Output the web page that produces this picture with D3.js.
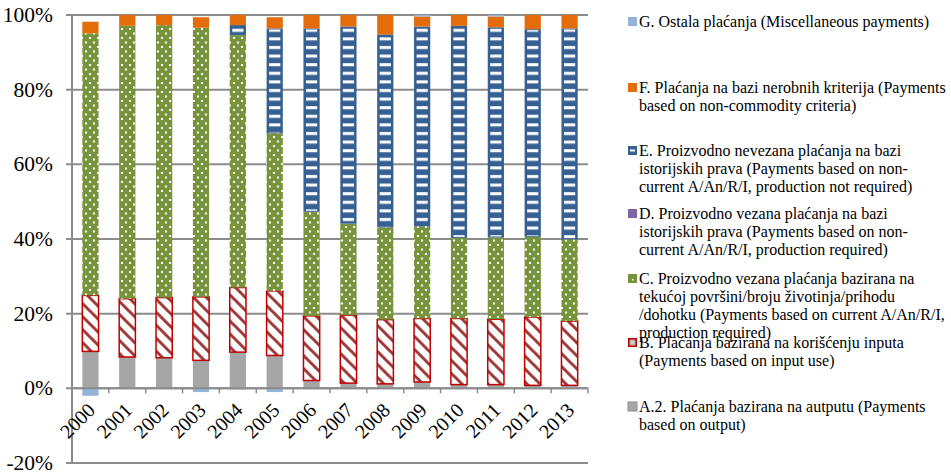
<!DOCTYPE html>
<html>
<head>
<meta charset="utf-8">
<script src="https://cdn.jsdelivr.net/npm/d3@7"></script>
<style>
  body { margin: 0; background: #fff; }
  svg { display: block; }
  text { font-family: "Liberation Serif", "Tinos", "Noto Serif", "DejaVu Serif", serif; }
</style>
</head>
<body>
<div id="chart"></div>
<script>
"use strict";

// years on the x axis
const years = ["2000","2001","2002","2003","2004","2005","2006","2007","2008","2009","2010","2011","2012","2013"];

// shares in %
const serA = [9.9, 8.4, 8.2, 7.5, 9.7, 8.8, 2.1, 1.4, 1.2, 1.7, 1.0, 1.0, 0.8, 0.8];
const serB = [15.0, 15.6, 16.1, 17.0, 17.3, 17.3, 17.3, 18.2, 17.2, 17.0, 17.7, 17.5, 18.3, 17.2];
const serC = [70.2, 73.1, 73.0, 72.1, 67.6, 42.2, 27.9, 24.5, 24.7, 24.7, 21.6, 21.9, 21.5, 21.9];
const serD = [0, 0, 0, 0, 0, 0, 0, 0, 0, 0, 0, 0, 0, 0];
const serE = [0, 0, 0, 0, 2.7, 28.1, 49.1, 52.8, 51.7, 53.5, 56.8, 56.3, 55.6, 56.5];
const serF = [3.1, 2.9, 2.7, 2.8, 2.7, 3.0, 3.6, 3.1, 5.2, 2.7, 2.9, 2.9, 3.8, 3.6];
const serG = [-2.0, 0, 0, -1.0, -0.3, -1.0, 0, 0, 0, 0.4, 0, 0.4, 0, 0];

const yTicks = [-20, 0, 20, 40, 60, 80, 100];

const legendLines = {
    G: ["G. Ostala plaćanja (Miscellaneous payments)"],
    F: ["F. Plaćanja na bazi nerobnih kriterija (Payments", "based on non-commodity criteria)"],
    E: ["E. Proizvodno nevezana plaćanja na bazi", "istorijskih prava (Payments based on non-", "current A/An/R/I, production  not required)"],
    D: ["D. Proizvodno vezana plaćanja na bazi", "istorijskih prava (Payments based on non-", "current A/An/R/I, production  required)"],
    C: ["C. Proizvodno vezana plaćanja bazirana na", "tekućoj površini/broju životinja/prihodu", "/dohotku (Payments based on current A/An/R/I,", "production required)"],
    B: ["B. Plaćanja bazirana na korišćenju inputa", "(Payments based on input use)"],
    A: ["A.2.  Plaćanja bazirana na autputu (Payments", "based on output)"]
};
const legendOrder = ["G", "F", "E", "D", "C", "B", "A"];
const legendTop = {G: 22, F: 88, E: 151, D: 214, C: 279, B: 343, A: 407};

const keys = ["A", "B", "C", "D", "E", "F", "G"];
const series = {A: serA, B: serB, C: serC, D: serD, E: serE, F: serF, G: serG};

const rows = years.map((y, i) => {
    const r = {year: y};
    keys.forEach(k => { r[k] = series[k][i]; });
    return r;
});

const width = 951, height = 472;
const margin = {top: 15, right: 363, bottom: 9, left: 72};

const svg = d3.select("#chart").append("svg")
    .attr("width", width)
    .attr("height", height);

const defs = svg.append("defs");

// C: green with white dots
const pC = defs.append("pattern").attr("id", "pC")
    .attr("patternUnits", "userSpaceOnUse").attr("width", 8).attr("height", 9);
pC.append("rect").attr("width", 8).attr("height", 9).attr("fill", "#77933C");
pC.append("rect").attr("x", 1).attr("y", 1).attr("width", 2).attr("height", 2).attr("fill", "#fff");
pC.append("rect").attr("x", 5).attr("y", 5.5).attr("width", 2).attr("height", 2).attr("fill", "#fff");

// B: white with dark red downward diagonals
const pB = defs.append("pattern").attr("id", "pB")
    .attr("patternUnits", "userSpaceOnUse").attr("width", 13).attr("height", 13);
pB.append("rect").attr("width", 13).attr("height", 13).attr("fill", "#fff");
pB.append("path").attr("d", "M-3,-3 L16,16 M-3,10 L3,16 M10,-3 L16,3")
    .attr("stroke", "#A23B3C").attr("stroke-width", 3);

// E: white horizontal dashes on blue
const pE = defs.append("pattern").attr("id", "pE")
    .attr("patternUnits", "userSpaceOnUse").attr("width", 40).attr("height", 8.6);
pE.append("rect").attr("width", 40).attr("height", 8.6).attr("fill", "#376092");
pE.append("rect").attr("y", 3).attr("width", 40).attr("height", 3).attr("fill", "#fff");

const x = d3.scaleBand()
    .domain(years)
    .range([margin.left, width - margin.right])
    .paddingInner(0.56)
    .paddingOuter(0.28);

const y = d3.scaleLinear()
    .domain([-20, 100])
    .range([height - margin.bottom, margin.top]);

// grid lines
svg.append("g")
    .selectAll("line")
    .data(yTicks)
    .join("line")
        .attr("x1", margin.left - 6)
        .attr("x2", width - margin.right)
        .attr("y1", d => y(d))
        .attr("y2", d => y(d))
        .attr("stroke", "#8c8c8c")
        .attr("stroke-width", 2);

// y axis line
svg.append("line")
    .attr("x1", margin.left).attr("x2", margin.left)
    .attr("y1", y(100)).attr("y2", y(-20))
    .attr("stroke", "#8c8c8c").attr("stroke-width", 2);

// y labels
svg.append("g")
    .selectAll("text")
    .data(yTicks)
    .join("text")
        .attr("x", 53)
        .attr("y", d => y(d) + 7)
        .attr("text-anchor", "end")
        .attr("font-size", 21.5)
        .attr("fill", "#000")
        .text(d => d + "%");

const stack = d3.stack()
    .keys(keys)
    .offset(d3.stackOffsetDiverging);

const layers = stack(rows);

const fills = {A: "#A6A6A6", B: "url(#pB)", C: "url(#pC)", D: "#8064A2", E: "#376092", F: "#E46C0A", G: "#95B3D7"};
const strokes = {A: "#8E8E8E", B: "#C00000", C: "#8AA252", D: "#8064A2", E: "#376092", F: "#F08B3A", G: "#95B3D7"};

const bw = x.bandwidth();

layers.forEach(layer => {
    const k = layer.key;
    const g = svg.append("g");
    const seg = layer.filter(d => d[1] !== d[0]);
    g.selectAll("rect")
        .data(seg)
        .join("rect")
            .attr("x", d => x(d.data.year))
            .attr("y", d => y(Math.max(d[0], d[1])))
            .attr("width", bw)
            .attr("height", d => Math.abs(y(d[0]) - y(d[1])))
            .attr("fill", fills[k])
            .attr("stroke", k === "B" ? strokes[k] : "none")
            .attr("stroke-width", k === "B" ? 1.5 : 0);
    if (k === "E") {
        // white dashes inset from the blue edge
        g.selectAll("rect.inner")
            .data(seg)
            .join("rect")
                .attr("class", "inner")
                .attr("x", d => x(d.data.year) + 2.5)
                .attr("y", d => y(Math.max(d[0], d[1])) + 1)
                .attr("width", bw - 5)
                .attr("height", d => Math.max(0, Math.abs(y(d[0]) - y(d[1])) - 2))
                .attr("fill", "url(#pE)");
    }
});

// x axis at 0
svg.append("line")
    .attr("x1", margin.left).attr("x2", width - margin.right)
    .attr("y1", y(0)).attr("y2", y(0))
    .attr("stroke", "#8c8c8c").attr("stroke-width", 2);

const bounds = years.map((d, i) => margin.left + (i + 1) * ((width - margin.right - margin.left) / years.length));
svg.append("g")
    .selectAll("line")
    .data(bounds)
    .join("line")
        .attr("x1", d => d).attr("x2", d => d)
        .attr("y1", y(0)).attr("y2", y(0) + 5)
        .attr("stroke", "#8c8c8c").attr("stroke-width", 1.5);

// x labels, rotated
svg.append("g")
    .selectAll("text")
    .data(years)
    .join("text")
        .attr("transform", d => `translate(${x(d) + bw / 2 + 6},${y(0) + 23}) rotate(-45)`)
        .attr("text-anchor", "end")
        .attr("font-size", 20)
        .text(d => d);

// legend
const lg = svg.append("g")
    .attr("font-size", 16);

legendOrder.forEach(k => {
    const top = legendTop[k];
    const sx = 628, sy = top - 5;
    if (k === "E") {
        lg.append("rect").attr("x", sx).attr("y", sy).attr("width", 9).attr("height", 9).attr("fill", "#376092");
        lg.append("rect").attr("x", sx + 2).attr("y", sy + 3.5).attr("width", 5).attr("height", 2).attr("fill", "#fff");
    } else if (k === "C") {
        lg.append("rect").attr("x", sx).attr("y", sy).attr("width", 9).attr("height", 9).attr("fill", "#77933C");
        lg.append("rect").attr("x", sx + 4).attr("y", sy + 5).attr("width", 1.5).attr("height", 1.5).attr("fill", "#fff");
    } else if (k === "B") {
        lg.append("rect").attr("x", sx + 0.75).attr("y", sy + 0.75).attr("width", 7.5).attr("height", 7.5)
            .attr("fill", "#A6A6A6").attr("stroke", "#C00000").attr("stroke-width", 1.5);
        lg.append("rect").attr("x", sx + 2.5).attr("y", sy + 2.5).attr("width", 4).attr("height", 4).attr("fill", "#ccc");
    } else {
        lg.append("rect").attr("x", sx).attr("y", sy).attr("width", 9).attr("height", 9)
            .attr("fill", fills[k]).attr("stroke", k === "A" ? strokes[k] : "none");
    }
    const t = lg.append("text").attr("x", 639).attr("y", top + 5);
    legendLines[k].forEach((line, i) => {
        t.append("tspan").attr("x", 639).attr("dy", i === 0 ? 0 : 18).text(line);
    });
});
</script>
</body>
</html>
